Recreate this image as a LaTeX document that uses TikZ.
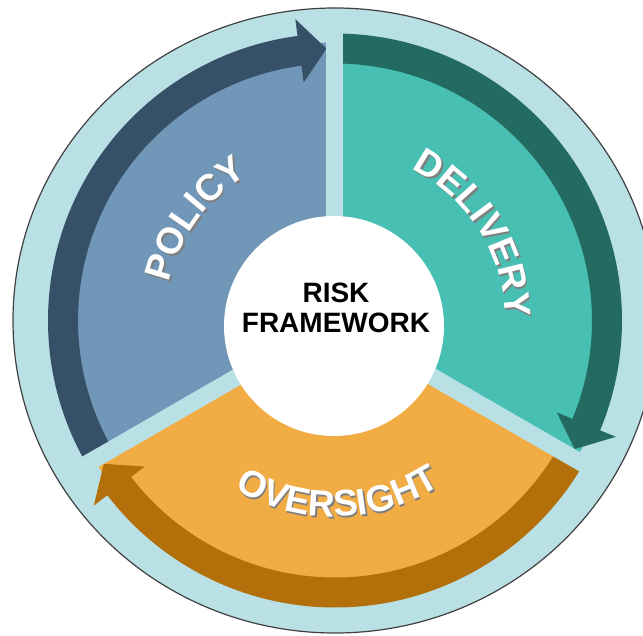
\documentclass[tikz,border=0pt]{standalone}
\usepackage{fontspec}
\setmainfont{Liberation Sans}
\usetikzlibrary{decorations.text}
\definecolor{ringc}{HTML}{B9E0E4}
\definecolor{polfill}{HTML}{7096B8}
\definecolor{polarr}{HTML}{365068}
\definecolor{delfill}{HTML}{47BFB2}
\definecolor{delarr}{HTML}{236B61}
\definecolor{ovfill}{HTML}{F2AC44}
\definecolor{ovarr}{HTML}{B36F0A}
\newcommand{\cyclearrow}[4]{%
  \fill[#1] (#2:287) arc[start angle=#2, end angle=#3, radius=287] -- (#3:304) -- (#4:272) -- (#3:240) -- (#3:257) arc[start angle=#3, end angle=#2, radius=257] -- cycle;}
\newcommand{\arctext}[4]{%
  \path[decorate, decoration={text along path, text align=center, text={|\fontsize{37}{37}\selectfont\bfseries\color{black!50}|#1}}] ([shift={(1.5,-2)}]#2:#4) arc[start angle=#2, end angle=#3, radius=#4];
  \path[decorate, decoration={text along path, text align=center, text={|\fontsize{37}{37}\selectfont\bfseries\color{white}|#1}}] (#2:#4) arc[start angle=#2, end angle=#3, radius=#4];}
\begin{document}
\begin{tikzpicture}[x=1pt,y=1pt]
\useasboundingbox (-335,-314.5) rectangle (308,320.5);
\fill[white] (-335,-314.5) rectangle (308,320.5);
% outer ring
\draw[fill=ringc, draw=black!75, line width=1.2] (0,0) ellipse [x radius=322, y radius=312.5];
% sectors
\fill[polfill] (0,0) -- (90:278) arc[start angle=90, end angle=210, radius=278] -- cycle;
\fill[delfill] (0,0) -- (-30:278) arc[start angle=-30, end angle=90, radius=278] -- cycle;
\fill[ovfill] (0,0) -- (210:278) arc[start angle=210, end angle=330, radius=278] -- cycle;
% arrows
\cyclearrow{polarr}{210}{97.5}{91.8}
\cyclearrow{delarr}{90}{-22.5}{-28.2}
\cyclearrow{ovarr}{330}{217.5}{211.8}
% gaps
\draw[ringc, line width=17] (0,0) -- (90:296);
\draw[ringc, line width=17] (0,0) -- (210:296);
\draw[ringc, line width=17] (0,0) -- (330:296);
% centre
\fill[white] (-1,-5.5) circle (110);
\node[font=\bfseries\fontsize{28}{30}\selectfont, align=center, text=black] (rf) at (1,13) {RISK\\FRAMEWORK};
% curved labels
\arctext{POLICY}{180}{108}{170}
\arctext{DELIVERY}{68}{-4}{170}
\arctext{OVERSIGHT}{226}{316}{196}
\end{tikzpicture}
\end{document}
